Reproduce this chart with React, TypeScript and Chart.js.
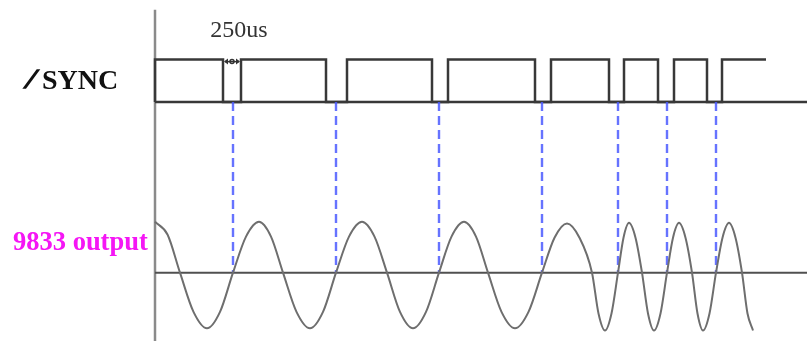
import React, { useEffect, useRef } from "react";
import { Chart, registerables } from "chart.js";

Chart.register(...registerables);

// ---- data (x in time units measured from the vertical axis) ----
const SYNC_HIGH = 4.02;
const SYNC_LOW = 3.22;
// alternating rising / falling edge times of /SYNC (starts high at t=0)
const SYNC_EDGES = [0, 68, 86, 171, 192, 277, 293, 380, 396, 454, 469, 503, 519, 552, 567];
const SYNC_END = 611;
const TIME_END = 652;
const AXIS_TOP = 4.96;
const AXIS_BOTTOM = -1.3;

// sync-trigger marker times (middle of each low pulse)
const MARKERS = [78, 181, 284, 387, 463, 512, 561];

// 9833 output sine wave, sampled at peaks / crossings / eighth points
const SINE_X = [
  0, 12.5, 25, 38.5, 52, 65, 78, 91, 104, 116, 128, 141.5, 155, 168, 181, 194, 207, 219.5, 232, 245,
  258, 271, 284, 296.5, 309, 321, 333, 346.5, 360, 373.5, 387, 399.5, 412, 424.5, 437, 443.5, 450,
  456.5, 463, 468.5, 474, 480.5, 487, 493, 499, 505.5, 512, 518, 524, 530.5, 537, 542.5, 548, 554.5,
  561, 567.5, 574, 580.5, 587, 592.5, 598,
];
const SINE_Y = [
  0.96, 0.72, 0, -0.74, -1.05, -0.74, 0, 0.68, 0.96, 0.68, 0, -0.74, -1.05, -0.74, 0, 0.68, 0.96, 0.68,
  0, -0.74, -1.05, -0.74, 0, 0.68, 0.96, 0.68, 0, -0.74, -1.05, -0.74, 0, 0.66, 0.93, 0.66, 0, -0.77,
  -1.09, -0.77, 0, 0.66, 0.94, 0.66, 0, -0.77, -1.09, -0.77, 0, 0.66, 0.94, 0.66, 0, -0.77, -1.09,
  -0.77, 0, 0.66, 0.94, 0.66, 0, -0.77, -1.09,
];

const LABEL_SLASH = "\u2044";
const LABEL_SYNC = "SYNC";
const LABEL_OUT = "9833 output";
const LABEL_PULSE = "250us";

function buildSync() {
  const pts: { x: number; y: number }[] = [{ x: SYNC_EDGES[0], y: SYNC_LOW }];
  SYNC_EDGES.forEach((e, i) => {
    if (i % 2 === 0) {
      pts.push({ x: e, y: SYNC_LOW }, { x: e, y: SYNC_HIGH });
    } else {
      pts.push({ x: e, y: SYNC_HIGH }, { x: e, y: SYNC_LOW });
    }
  });
  pts.push({ x: SYNC_END, y: SYNC_HIGH });
  return pts;
}

const labelPlugin = {
  id: "labels",
  afterDatasetsDraw(chart: any) {
    const { ctx, scales } = chart;
    const xs = scales.x;
    const ys = scales.y;
    ctx.save();
    // /SYNC
    const syncMid = ys.getPixelForValue((SYNC_HIGH + SYNC_LOW) / 2);
    ctx.textBaseline = "middle";
    ctx.fillStyle = "#111";
    ctx.strokeStyle = "#111";
    ctx.textAlign = "left";
    ctx.font = "bold 28px 'Liberation Serif'";
    ctx.lineWidth = 1.6;
    ctx.fillText(LABEL_SLASH, 29, syncMid);
    ctx.strokeText(LABEL_SLASH, 29, syncMid);
    ctx.fillText(LABEL_SYNC, 42, syncMid + 1);
    // 9833 output
    ctx.fillStyle = "#f516f5";
    ctx.font = "bold 26.5px 'Liberation Serif'";
    ctx.fillText(LABEL_OUT, 13, ys.getPixelForValue(0.56));
    // 250us
    const gapMid = (xs.getPixelForValue(SYNC_EDGES[1]) + xs.getPixelForValue(SYNC_EDGES[2])) / 2;
    ctx.fillStyle = "#333";
    ctx.font = "24px 'Liberation Serif'";
    ctx.textAlign = "center";
    ctx.textBaseline = "alphabetic";
    ctx.fillText(LABEL_PULSE, gapMid + 7, 37);
    // small double arrow marking the pulse width
    const xa = xs.getPixelForValue(SYNC_EDGES[1]);
    const xb = xs.getPixelForValue(SYNC_EDGES[2]);
    const ya = ys.getPixelForValue(SYNC_HIGH) + 2;
    ctx.strokeStyle = "#333";
    ctx.fillStyle = "#333";
    ctx.lineWidth = 1.5;
    ctx.beginPath();
    ctx.moveTo(xa + 2, ya);
    ctx.lineTo(xb - 2, ya);
    ctx.stroke();
    ctx.beginPath();
    ctx.moveTo(xa + 1, ya);
    ctx.lineTo(xa + 5, ya - 3);
    ctx.lineTo(xa + 5, ya + 3);
    ctx.closePath();
    ctx.fill();
    ctx.beginPath();
    ctx.moveTo(xb - 1, ya);
    ctx.lineTo(xb - 5, ya - 3);
    ctx.lineTo(xb - 5, ya + 3);
    ctx.closePath();
    ctx.fill();
    ctx.beginPath();
    ctx.arc((xa + xb) / 2, ya, 2, 0, Math.PI * 2);
    ctx.stroke();
    ctx.restore();
  },
};

export default function App() {
  const ref = useRef<HTMLCanvasElement | null>(null);

  useEffect(() => {
    if (!ref.current) return;
    const base = { pointRadius: 0, pointHoverRadius: 0, fill: false, tension: 0 };
    const markerSets = MARKERS.map((m) => ({
      ...base,
      data: [
        { x: m, y: SYNC_LOW },
        { x: m, y: 0 },
      ],
      borderColor: "rgba(75,90,255,0.85)",
      borderWidth: 2.4,
      borderDash: [9, 5],
      order: 2,
    }));
    const chart = new Chart(ref.current, {
      type: "line",
      data: {
        datasets: [
          {
            ...base,
            data: SINE_X.map((x, i) => ({ x, y: SINE_Y[i] })),
            borderColor: "#6e6e6e",
            borderWidth: 2,
            cubicInterpolationMode: "monotone",
            order: 1,
          },
          ...markerSets,
          {
            ...base,
            data: buildSync(),
            borderColor: "#383838",
            borderWidth: 2.5,
            order: 3,
          },
          {
            ...base,
            data: [
              { x: 0, y: SYNC_LOW },
              { x: TIME_END, y: SYNC_LOW },
            ],
            borderColor: "#383838",
            borderWidth: 2.5,
            order: 4,
          },
          {
            ...base,
            data: [
              { x: 0, y: 0 },
              { x: TIME_END, y: 0 },
            ],
            borderColor: "#505050",
            borderWidth: 2,
            order: 5,
          },
          {
            ...base,
            data: [
              { x: 0, y: AXIS_TOP },
              { x: 0, y: AXIS_BOTTOM },
            ],
            borderColor: "#8a8a8a",
            borderWidth: 2.5,
            order: 6,
          },
        ],
      },
      options: {
        animation: false,
        responsive: false,
        layout: { padding: 0 },
        plugins: { legend: { display: false }, tooltip: { enabled: false } },
        events: [],
        scales: {
          x: { type: "linear", min: -155, max: TIME_END, display: false },
          y: { type: "linear", min: -1.289, max: 5.145, display: false },
        },
      },
      plugins: [labelPlugin],
    } as any);
    return () => chart.destroy();
  }, []);

  return (
    <div style={{ position: "absolute", left: 0, top: 0, width: 807, height: 341, background: "#fff" }}>
      <canvas ref={ref} width={807} height={341} style={{ display: "block" }} />
    </div>
  );
}
